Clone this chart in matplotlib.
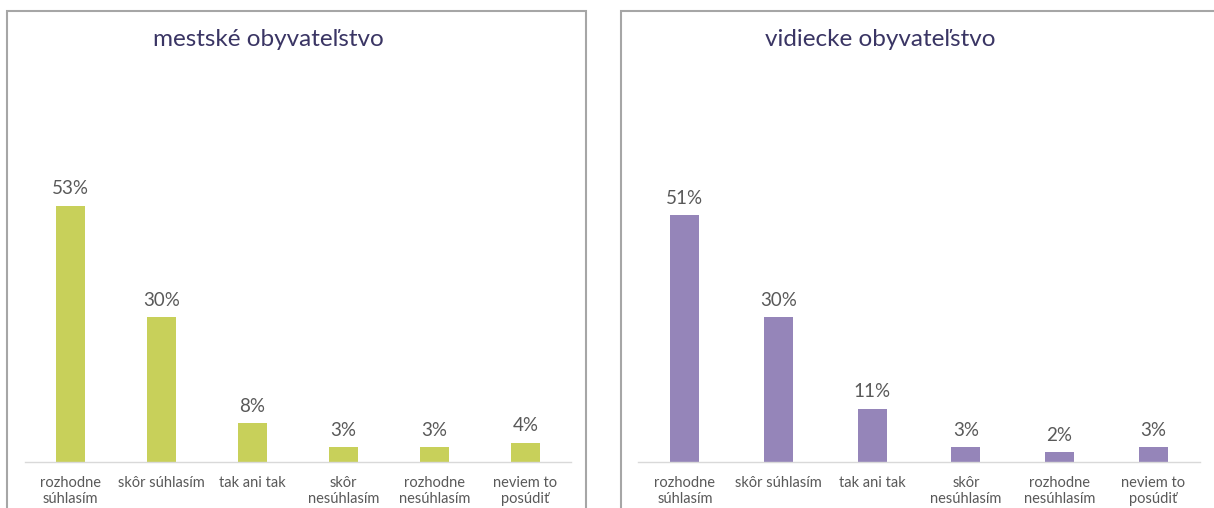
import matplotlib
matplotlib.use("Agg")
import matplotlib.pyplot as plt
from matplotlib.patches import Rectangle

plt.rcParams['font.family'] = ['Lato', 'DejaVu Sans']

categories = ["rozhodne\nsúhlasím", "skôr súhlasím", "tak ani tak",
              "skôr\nnesúhlasím", "rozhodne\nnesúhlasím", "neviem to\nposúdiť"]
urban_values = [53, 30, 8, 3, 3, 4]
rural_values = [51, 30, 11, 3, 2, 3]
titles = ["mestské obyvateľstvo", "vidiecke obyvateľstvo"]
colors = ["#c8d05a", "#9585b9"]

W, H = 1214, 508
fig = plt.figure(figsize=(W / 100, H / 100), dpi=100)
fig.patch.set_facecolor("white")

def px(x0, y0, x1, y1):
    # pixel box (top-left origin) -> figure fraction rect
    return [x0 / W, (H - y1) / H, (x1 - x0) / W, (y1 - y0) / H]

# panel borders
for (bx0, bx1) in [(7, 586), (621, 1240)]:
    fig.add_artist(Rectangle((bx0 / W, -0.05), (bx1 - bx0) / W, (H - 11) / H + 0.05,
                             transform=fig.transFigure, fill=False,
                             edgecolor="#a6a6a6", linewidth=1.5, zorder=0))

axes_boxes = [(25, 80, 571, 462), (638, 80, 1200, 462)]
title_pos = [(268, 39), (880, 39)]

for i, (vals, title, col) in enumerate(zip([urban_values, rural_values], titles, colors)):
    ax = fig.add_axes(px(*axes_boxes[i]))
    xs = list(range(len(categories)))
    bars = ax.bar(xs, vals, width=0.31, color=col, zorder=2)
    ax.set_xlim(-0.5, len(categories) - 0.5)
    ax.set_ylim(0, 79)
    for s in ["top", "right", "left"]:
        ax.spines[s].set_visible(False)
    ax.spines["bottom"].set_color("#d9d9d9")
    ax.spines["bottom"].set_linewidth(1.0)
    ax.set_yticks([])
    ax.set_xticks(xs)
    ax.set_xticklabels(categories, fontsize=10.5, color="#595959", linespacing=1.15,
                       va="top")
    ax.tick_params(axis="x", length=0, pad=10)
    ax.patch.set_alpha(0)
    for b, v in zip(bars, vals):
        ax.annotate(f"{v}%", (b.get_x() + b.get_width() / 2, v), xytext=(0, 6),
                    textcoords="offset points", ha="center", va="bottom",
                    fontsize=13.5, color="#595959")
    tx, ty = title_pos[i]
    fig.text(tx / W, (H - ty) / H, title, ha="center", va="center",
             fontsize=17.5, color="#3a3564")

fig.savefig("out.png", dpi=100, facecolor="white")
